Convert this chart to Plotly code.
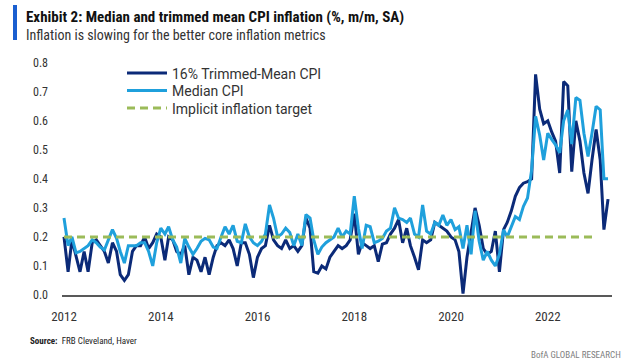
import pandas as pd
import plotly.graph_objects as go

# ---- data (monthly, Jan 2012 onward, % m/m SA) ----
start_month = "2012-01-01"

trimmed_mean = [
    # 2012
    0.20, 0.08, 0.19, 0.13, 0.08, 0.15, 0.08, 0.18, 0.19, 0.17, 0.15, 0.11,
    # 2013
    0.18, 0.15, 0.07, 0.05, 0.07, 0.15, 0.17, 0.17, 0.20, 0.16, 0.18, 0.21,
    # 2014
    0.20, 0.12, 0.20, 0.19, 0.15, 0.14, 0.17, 0.07, 0.13, 0.12, 0.08, 0.13,
    # 2015
    0.07, 0.13, 0.17, 0.18, 0.17, 0.19, 0.16, 0.10, 0.18, 0.18, 0.14, 0.06,
    # 2016
    0.13, 0.16, 0.17, 0.24, 0.19, 0.17, 0.16, 0.19, 0.16, 0.17, 0.15, 0.17,
    # 2017
    0.265, 0.23, 0.08, 0.075, 0.10, 0.09, 0.13, 0.15, 0.17, 0.16, 0.17, 0.19,
    # 2018
    0.28, 0.14, 0.18, 0.17, 0.16, 0.17, 0.115, 0.175, 0.18, 0.21, 0.23, 0.26,
    # 2019
    0.18, 0.23, 0.17, 0.13, 0.087, 0.19, 0.18, 0.19, 0.25, 0.24, 0.23, 0.22,
    # 2020
    0.20, 0.19, 0.15, 0.005, 0.13, 0.21, 0.30, 0.24, 0.16, 0.14, 0.15, 0.22,
    # 2021
    0.08, 0.225, 0.25, 0.29, 0.34, 0.37, 0.385, 0.39, 0.40, 0.76, 0.64, 0.59,
    # 2022
    0.60, 0.56, 0.53, 0.42, 0.735, 0.72, 0.425, 0.60, 0.53, 0.42, 0.35, 0.465,
    # 2023
    0.57, 0.465, 0.225, 0.33,
]

median_cpi = [
    # 2012
    0.265, 0.17, 0.20, 0.145, 0.15, 0.16, 0.17, 0.19, 0.18, 0.165, 0.155, 0.19,
    # 2013
    0.225, 0.195, 0.15, 0.11, 0.17, 0.17, 0.17, 0.18, 0.18, 0.15, 0.10, 0.18,
    # 2014
    0.23, 0.21, 0.235, 0.19, 0.165, 0.11, 0.195, 0.165, 0.14, 0.16, 0.185, 0.195,
    # 2015
    0.19, 0.165, 0.16, 0.20, 0.235, 0.21, 0.24, 0.185, 0.18, 0.245, 0.20, 0.18,
    # 2016
    0.17, 0.185, 0.21, 0.31, 0.265, 0.20, 0.21, 0.23, 0.215, 0.17, 0.21, 0.17,
    # 2017
    0.277, 0.265, 0.19, 0.14, 0.165, 0.18, 0.19, 0.20, 0.23, 0.20, 0.22, 0.21,
    # 2018
    0.34, 0.23, 0.16, 0.24, 0.235, 0.18, 0.185, 0.195, 0.22, 0.23, 0.30, 0.265,
    # 2019
    0.26, 0.25, 0.265, 0.21, 0.20, 0.31, 0.22, 0.21, 0.25, 0.24, 0.275, 0.24,
    # 2020
    0.26, 0.225, 0.235, 0.16, 0.24, 0.14, 0.29, 0.185, 0.12, 0.15, 0.12, 0.10,
    # 2021
    0.14, 0.225, 0.20, 0.236, 0.27, 0.26, 0.305, 0.334, 0.43, 0.615, 0.55, 0.465,
    # 2022
    0.557, 0.535, 0.517, 0.49, 0.60, 0.637, 0.52, 0.68, 0.67, 0.557, 0.477, 0.557,
    # 2023
    0.65, 0.637, 0.40, 0.40,
]

target_value = 0.2
target_dates = ["2012-01-01", "2023-01-01"]

series_names = ["16% Trimmed-Mean CPI", "Median CPI", "Implicit inflation target"]
y_ticks = [0.0, 0.1, 0.2, 0.3, 0.4, 0.5, 0.6, 0.7, 0.8]

dates = pd.date_range(start_month, periods=len(trimmed_mean), freq="MS")

# ---- styling ----
W, H = 627, 361
ML, MR, MT, MB = 62, 15, 57, 66
PW, PH = W - ML - MR, H - MT - MB

DARK = "#0b2a78"
LIGHT = "#1fa0dc"
GREEN = "#9bbb59"
TEXT = "#333333"
FONT = "Liberation Sans Narrow, Roboto Condensed, Roboto, Arial, sans-serif"
LEGEND_FONT = "Roboto, Arial, sans-serif"


def px_x(px):
    return (px - ML) / PW


def px_y(py):
    return 1 - (py - MT) / PH


fig = go.Figure()
fig.add_trace(go.Scatter(x=dates, y=trimmed_mean, mode="lines", name=series_names[0],
                         legend="legend", line=dict(color=DARK, width=3)))
fig.add_trace(go.Scatter(x=dates, y=median_cpi, mode="lines", name=series_names[1],
                         legend="legend2", line=dict(color=LIGHT, width=3)))
fig.add_trace(go.Scatter(x=target_dates, y=[target_value] * len(target_dates), mode="lines",
                         name=series_names[2], legend="legend3",
                         line=dict(color=GREEN, width=3, dash="8px,5px")))

legend_common = dict(x=px_x(122), xanchor="left", yanchor="top",
                     bgcolor="rgba(0,0,0,0)",
                     font=dict(family=LEGEND_FONT, size=14, color=TEXT),
                     itemwidth=40)

fig.update_layout(
    width=W, height=H,
    margin=dict(l=ML, r=MR, t=MT, b=MB),
    paper_bgcolor="white", plot_bgcolor="white",
    font=dict(family=FONT, size=12, color=TEXT),
    showlegend=True,
    legend=dict(y=px_y(57.5), **legend_common),
    legend2=dict(y=px_y(75), **legend_common),
    legend3=dict(y=px_y(92.5), **legend_common),
    xaxis=dict(type="date", range=["2011-12-17", "2023-05-01"],
               tick0="2012-01-01", dtick="M24", tickformat="%Y",
               showgrid=False, zeroline=False, showline=True,
               linecolor="#595959", linewidth=2, ticks="",
               tickfont=dict(size=13, color=TEXT), ticklabelstandoff=8),
    yaxis=dict(range=[0, 0.8196], tickvals=y_ticks, tickformat=".1f",
               showgrid=False, zeroline=False, showline=False, ticks="",
               tickfont=dict(size=12, color=TEXT), ticklabelstandoff=13),
)

# title bar
fig.add_shape(type="rect", xref="paper", yref="paper",
              x0=px_x(13), x1=px_x(17), y0=px_y(40), y1=px_y(5),
              fillcolor="#1a5fd0", line=dict(width=0))

fig.add_annotation(text="<b>Exhibit 2: Median and trimmed mean CPI inflation (%, m/m, SA)</b>",
                   xref="paper", yref="paper", x=px_x(24), y=px_y(17),
                   xanchor="left", yanchor="middle", showarrow=False,
                   font=dict(size=15, color="#111111"))
fig.add_annotation(text="Inflation is slowing for the better core inflation metrics",
                   xref="paper", yref="paper", x=px_x(24), y=px_y(35),
                   xanchor="left", yanchor="middle", showarrow=False,
                   font=dict(size=14, color=TEXT))
fig.add_annotation(text="<b>Source:</b>  FRB Cleveland, Haver",
                   xref="paper", yref="paper", x=px_x(28), y=px_y(341),
                   xanchor="left", yanchor="middle", showarrow=False,
                   font=dict(size=9, color="#222222"))
fig.add_annotation(text="BofA GLOBAL RESEARCH",
                   xref="paper", yref="paper", x=px_x(623), y=px_y(355),
                   xanchor="right", yanchor="middle", showarrow=False,
                   font=dict(size=9, color="#808080"))

fig.write_html("out.html", config={"displayModeBar": False},
               post_script="document.body.style.margin='0px';document.body.style.padding='0px';")
